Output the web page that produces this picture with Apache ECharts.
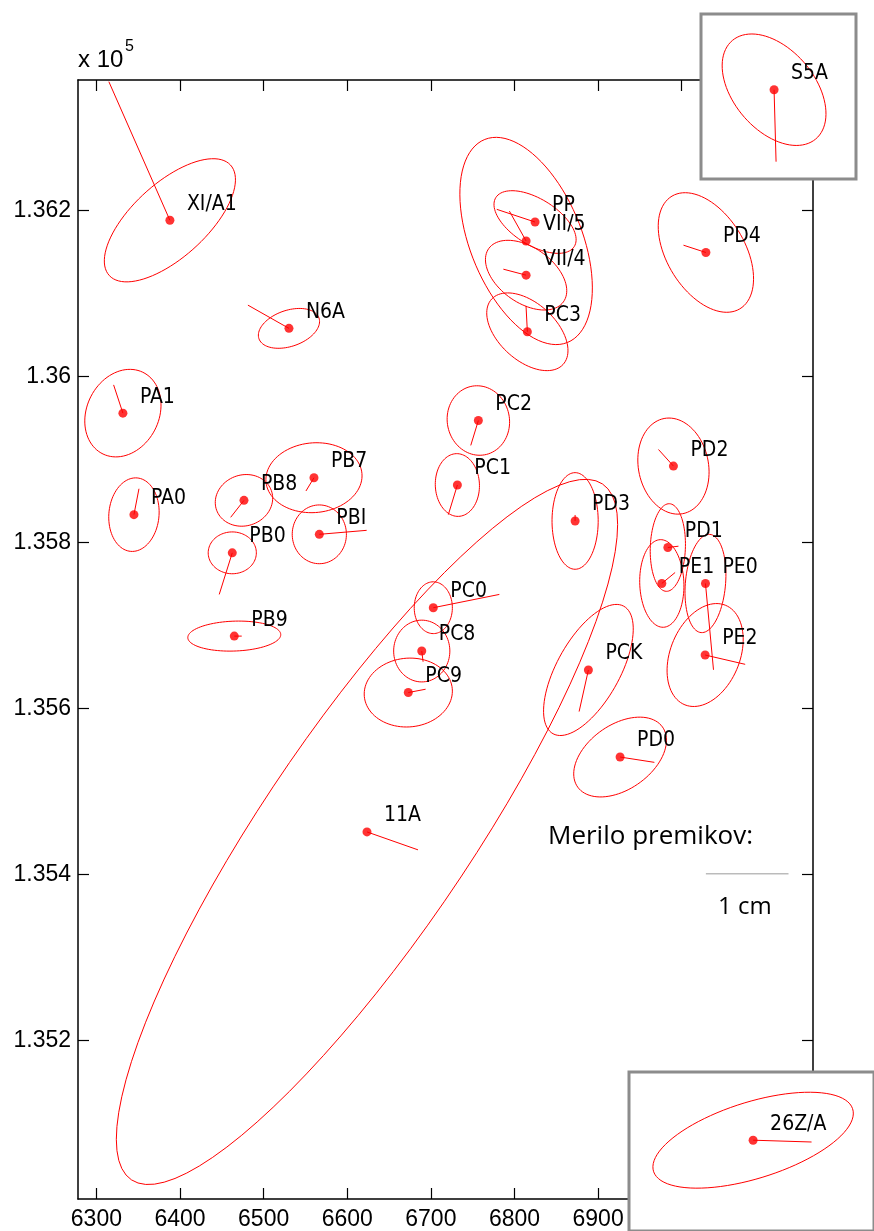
<!DOCTYPE html>
<html>
<head>
<meta charset="utf-8">
<script src="https://cdn.jsdelivr.net/npm/echarts@6/dist/echarts.min.js"></script>
<style>
html,body{margin:0;padding:0;background:#fff;}
#chart{width:874px;height:1231px;}
</style>
</head>
<body>
<div id="chart"></div>
<script>
// ---- data (easting, northing; ellipse semi-axes & orientation; displacement vectors) ----
const stationNames = ['XI/A1','N6A','PA1','PA0','PB8','PB7','PBI','PB0','PB9','PC2','PC1','PD3','PC0','PC8','PC9','PCK','PE2','PE0','PE1','PD1','PD0','PD2','PD4','PP','VII/5','VII/4','PC3','11A'];
const stationX = [6387.9,6530.3,6331.7,6344.9,6476.5,6560.2,6566.6,6462.5,6464.9,6756.8,6731.7,6872.5,6702.9,6689.1,6673.0,6888.4,7028.0,7028.4,6976.2,6983.4,6926.3,6990.1,7028.9,6824.6,6813.9,6813.9,6815.4,6623.6];
const stationY = [136188.0,136057.8,135955.7,135833.4,135850.6,135877.9,135809.7,135787.4,135687.1,135946.8,135869.1,135825.8,135721.3,135669.1,135619.1,135646.3,135664.3,135750.5,135750.5,135793.8,135541.4,135891.9,136149.2,136185.9,136163.1,136121.9,136053.7,135451.2];
const ellA = [98.4,38.0,54.7,44.4,34.8,57.6,35.4,28.8,55.6,42,37.8,58.2,31.2,37.2,52.8,87.7,64.7,59.4,52.8,52.8,62.3,58.4,79.1,55.4,131.9,55,58.1,505];
const ellB = [44.4,21.7,43.2,30,30.6,42,32.4,25.2,18,37.2,26.4,27.6,22.8,33.6,41.4,37.7,41.6,24,26.4,21,38.8,41.9,46.7,27.7,66.8,33.2,34.3,123.6];
const ellAngle = [42.6,19.2,64.3,85,20,5,90,0,2,100,92,90,90,90,5,61.2,68.1,85,92,88,35.6,101,120.8,-32.3,-68,-35.9,-42.8,56.1];
const dispDx = [-73,-49.1,-11.1,6,-15.9,-9.6,56.6,-15.6,8.9,-9.1,-10.8,0,79,1.6,20.7,-11.1,47.9,9.6,15.9,12.7,41,-17.9,-26.8,-45.8,-20,-27.2,-1.6,61];
const dispDy = [167,28,34,31.2,-20.4,-16,4.8,-50.1,0,-30,-35.7,7.2,16,-12.9,4,-50.1,-11.2,-104,13.2,1.6,-6.4,20,8.8,15.3,36,7.2,31.2,-21.6];

// inset stations
const insetNames = ['S5A','26Z/A'];
const insetX = [7110.6,7094.7];
const insetY = [136345.8,135075.0];
const insetA = [77.4,133];
const insetB = [48.5,50.3];
const insetAngle = [-50,18.3];
const insetDx = [2.4,74.2];
const insetDy = [-86.5,-2.4];

// axis ticks
const xTicks = [6300,6400,6500,6600,6700,6800,6900,7000,7100];
const yTicks = [135200,135400,135600,135800,136000,136200];
const scaleBarX = [7028.9,7127.7];
const scaleBarY = 135400.7;

// ---- chart ----
const RED = '#ff0000';
const LABEL_FONT = "21px 'Liberation Sans Narrow','DejaVu Sans Condensed','Liberation Sans',sans-serif";

function ellipseItem(params, api){
  const cx = api.value(0), cy = api.value(1), a = api.value(2), b = api.value(3);
  const th = api.value(4) * Math.PI / 180;
  const pts = [];
  const N = 90;
  for (let i = 0; i <= N; i++){
    const t = 2 * Math.PI * i / N;
    const ex = cx + a * Math.cos(t) * Math.cos(th) - b * Math.sin(t) * Math.sin(th);
    const ey = cy + a * Math.cos(t) * Math.sin(th) + b * Math.sin(t) * Math.cos(th);
    pts.push(api.coord([ex, ey]));
  }
  return {type:'polyline', shape:{points:pts}, style:{stroke:RED, lineWidth:1, fill:null}};
}
function vectorItem(params, api){
  const x = api.value(0), y = api.value(1);
  const p0 = api.coord([x, y]);
  const p1 = api.coord([x + api.value(2), y + api.value(3)]);
  return {type:'line', shape:{x1:p0[0], y1:p0[1], x2:p1[0], y2:p1[1]}, style:{stroke:RED, lineWidth:1}};
}
function labelItem(names){
  return function(params, api){
    const p = api.coord([api.value(0), api.value(1)]);
    return {type:'text', x:p[0] + 17, y:p[1] - 16,
      style:{text:names[params.dataIndex], font:LABEL_FONT, fill:'#000', align:'left', verticalAlign:'middle'}};
  };
}

const mainEll = stationNames.map((n,i)=>[stationX[i], stationY[i], ellA[i], ellB[i], ellAngle[i]]);
const mainVec = stationNames.map((n,i)=>[stationX[i], stationY[i], dispDx[i], dispDy[i]]);
const mainPts = stationNames.map((n,i)=>[stationX[i], stationY[i]]);

function insetSeries(k, axisIdx){
  const ell = [[insetX[k], insetY[k], insetA[k], insetB[k], insetAngle[k]]];
  const vec = [[insetX[k], insetY[k], insetDx[k], insetDy[k]]];
  const pts = [[insetX[k], insetY[k]]];
  const base = {coordinateSystem:'cartesian2d', xAxisIndex:axisIdx, yAxisIndex:axisIdx, silent:true, z:11, clip:true};
  return [
    Object.assign({type:'custom', renderItem:ellipseItem, data:ell}, base),
    Object.assign({type:'custom', renderItem:vectorItem, data:vec}, base),
    Object.assign({type:'scatter', symbol:'circle', symbolSize:9, itemStyle:{color:RED}, data:pts}, base, {z:12}),
    Object.assign({type:'custom', renderItem:labelItem([insetNames[k]]), data:pts}, base, {z:12})
  ];
}

const axisLineStyle = {color:'#000', width:1.5};
const tickStyle = {color:'#000', width:1.2};
const TICK_FAMILY = "'Liberation Sans',Arial,sans-serif";

const option = {
  animation:false,
  backgroundColor:'#fff',
  grid:[
    {left:78, top:80, width:735, height:1122, show:false},
    {left:701, top:14, width:155, height:165, show:true, backgroundColor:'#fff', borderColor:'#8c8c8c', borderWidth:3, z:10},
    {left:629, top:1072, width:260, height:175, show:true, backgroundColor:'#fff', borderColor:'#8c8c8c', borderWidth:3, z:10}
  ],
  xAxis:[
    {type:'value', gridIndex:0, position:'bottom', min:6278, max:7157,
      axisLine:{show:true, onZero:false, lineStyle:axisLineStyle},
      axisTick:{show:true, inside:true, length:11, lineStyle:tickStyle, customValues:xTicks},
      axisLabel:{show:true, margin:9, color:'#000', fontSize:23, fontFamily:TICK_FAMILY, customValues:xTicks,
        formatter:function(v){ return String(Math.round(v)); }},
      splitLine:{show:false}},
    {type:'value', gridIndex:0, position:'top', min:6278, max:7157,
      axisLine:{show:true, onZero:false, lineStyle:axisLineStyle},
      axisTick:{show:true, inside:true, length:11, lineStyle:tickStyle, customValues:xTicks},
      axisLabel:{show:false}, splitLine:{show:false}},
    {type:'value', gridIndex:1, min:7023.2, max:7208.6, show:false},
    {type:'value', gridIndex:2, min:6937.1, max:7248.2, show:false}
  ],
  yAxis:[
    {type:'value', gridIndex:0, position:'left', min:135009, max:136357,
      axisLine:{show:true, onZero:false, lineStyle:axisLineStyle},
      axisTick:{show:true, inside:true, length:11, lineStyle:tickStyle, customValues:yTicks},
      axisLabel:{show:true, margin:7, color:'#000', fontSize:23, fontFamily:TICK_FAMILY, customValues:yTicks,
        formatter:function(v){ return String(parseFloat((v/1e5).toFixed(3))); }},
      splitLine:{show:false}},
    {type:'value', gridIndex:0, position:'right', min:135009, max:136357,
      axisLine:{show:true, onZero:false, lineStyle:axisLineStyle},
      axisTick:{show:true, inside:true, length:11, lineStyle:tickStyle, customValues:yTicks},
      axisLabel:{show:false}, splitLine:{show:false}},
    {type:'value', gridIndex:1, min:136238.5, max:136436.8, show:false},
    {type:'value', gridIndex:2, min:134954.9, max:135165.2, show:false}
  ],
  series:[
    {type:'custom', coordinateSystem:'cartesian2d', xAxisIndex:0, yAxisIndex:0, renderItem:ellipseItem, data:mainEll, clip:true, silent:true, z:2},
    {type:'custom', coordinateSystem:'cartesian2d', xAxisIndex:0, yAxisIndex:0, renderItem:vectorItem, data:mainVec, clip:true, silent:true, z:3},
    {type:'scatter', xAxisIndex:0, yAxisIndex:0, symbol:'circle', symbolSize:9, itemStyle:{color:RED}, data:mainPts, silent:true, z:4},
    {type:'custom', coordinateSystem:'cartesian2d', xAxisIndex:0, yAxisIndex:0, renderItem:labelItem(stationNames), data:mainPts, silent:true, z:5},
    {type:'line', xAxisIndex:0, yAxisIndex:0, data:[[scaleBarX[0], scaleBarY],[scaleBarX[1], scaleBarY]], symbol:'none',
      lineStyle:{color:'#9a9a9a', width:1}, silent:true, z:3}
  ].concat(insetSeries(0, 2), insetSeries(1, 3)),
  graphic:[
    {type:'text', x:78, y:60.5, z:20, style:{text:'x 10', font:"24px 'Liberation Sans',Arial,sans-serif", fill:'#000', align:'left', verticalAlign:'middle'}},
    {type:'text', x:125, y:47, z:20, style:{text:'5', font:"16px 'Liberation Sans',Arial,sans-serif", fill:'#000', align:'left', verticalAlign:'middle'}},
    {type:'text', x:548, y:837, z:20, style:{text:'Merilo premikov:', font:"26px 'Open Sans','Noto Sans',sans-serif", fill:'#000', align:'left', verticalAlign:'middle'}},
    {type:'text', x:718, y:907, z:20, style:{text:'1 cm', font:"24px 'Open Sans','Noto Sans',sans-serif", fill:'#000', align:'left', verticalAlign:'middle'}}
  ]
};

const chart = echarts.init(document.getElementById('chart'), null, {renderer:'canvas', width:874, height:1231});
chart.setOption(option);
</script>
</body>
</html>
